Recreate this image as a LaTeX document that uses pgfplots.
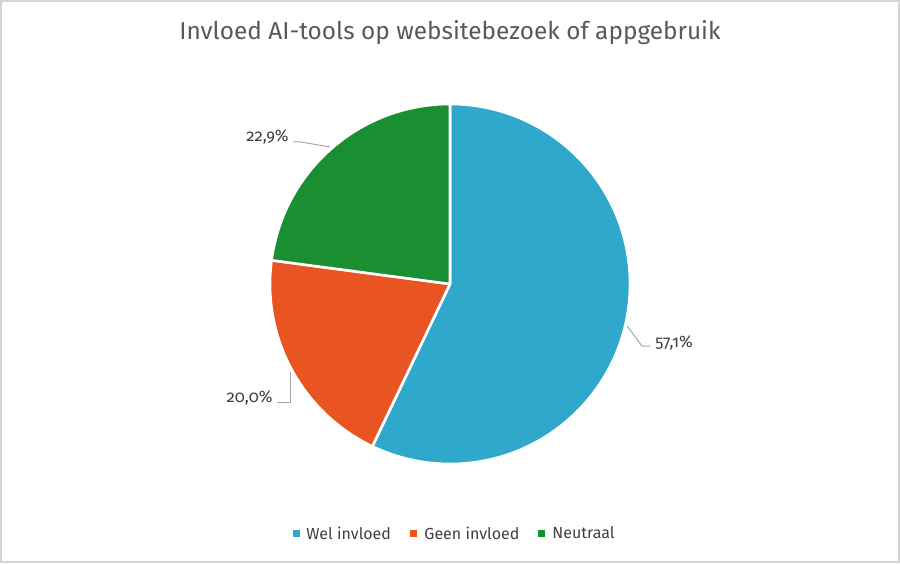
\documentclass[border=0pt]{standalone}
\usepackage{pgfplots}
\pgfplotsset{compat=1.18}
\usepackage{pgfplotstable}
\usepackage{fontspec}
\setmainfont{Fira Sans}[Numbers=OldStyle]

\definecolor{welblue}{HTML}{2FA8CC}
\definecolor{geenorange}{HTML}{E85522}
\definecolor{neutgreen}{HTML}{198F32}
\definecolor{titlegray}{HTML}{595959}
\definecolor{textgray}{HTML}{404040}
\definecolor{leadgray}{HTML}{A6A6A6}

\pgfplotstableread{
value
57.1
20.0
22.9
}\pietable

\begin{document}
\begin{tikzpicture}
% angles of the wedge borders, clockwise from 12 o'clock
\pgfplotstablegetelem{0}{value}\of\pietable\global\let\va\pgfplotsretval
\pgfplotstablegetelem{1}{value}\of\pietable\global\let\vb\pgfplotsretval
\pgfplotstablegetelem{2}{value}\of\pietable\global\let\vc\pgfplotsretval
\pgfmathsetmacro\aA{90}\global\let\aA\aA
\pgfmathsetmacro\aB{90-3.6*\va}\global\let\aB\aB
\pgfmathsetmacro\aC{\aB-3.6*\vb}\global\let\aC\aC
\pgfmathsetmacro\aD{\aC-3.6*\vc}\global\let\aD\aD
\begin{axis}[scale only axis, width=450pt, height=281.5pt,
    xmin=0, xmax=900, ymin=0, ymax=563, enlargelimits=false,
    hide axis, clip=false]
% frame
\draw[draw=black!17, line width=0.6pt] (axis cs:1,1) rectangle (axis cs:899,562);
% title
\node[text=titlegray, font=\fontsize{12.2}{15}\selectfont] at (axis cs:450,530)
    {Invloed AI-tools op websitebezoek of appgebruik};
% wedges (radius 180 px = 90pt)
\filldraw[fill=welblue, draw=white, line width=1.3pt, line join=round]
    (axis cs:450,279) -- +(\aA:90pt) arc[start angle=\aA, end angle=\aB, radius=90pt] -- cycle;
\filldraw[fill=geenorange, draw=white, line width=1.3pt, line join=round]
    (axis cs:450,279) -- +(\aB:90pt) arc[start angle=\aB, end angle=\aC, radius=90pt] -- cycle;
\filldraw[fill=neutgreen, draw=white, line width=1.3pt, line join=round]
    (axis cs:450,279) -- +(\aC:90pt) arc[start angle=\aC, end angle=\aD, radius=90pt] -- cycle;
% data labels with leader lines
\draw[leadgray, line width=0.5pt] (axis cs:627,237) -- (axis cs:642,217) -- (axis cs:650,217);
\node[anchor=west, text=textgray, font=\fontsize{8.3}{10}\selectfont, inner sep=1pt]
    at (axis cs:653,220) {57,1\%};
\draw[leadgray, line width=0.5pt] (axis cs:290,191) -- (axis cs:290,161) -- (axis cs:277,161);
\node[anchor=east, text=textgray, font=\fontsize{8.3}{10}\selectfont, inner sep=1pt]
    at (axis cs:275,165) {20,0\%};
\draw[leadgray, line width=0.5pt] (axis cs:330,416) -- (axis cs:301,421) -- (axis cs:293,421);
\node[anchor=east, text=textgray, font=\fontsize{8.3}{10}\selectfont, inner sep=1pt]
    at (axis cs:291,426) {22,9\%};
% legend
\fill[welblue] (axis cs:293,26.5) rectangle (axis cs:300,33.5);
\node[anchor=west, text=textgray, font=\fontsize{8}{10}\selectfont, inner sep=0pt]
    at (axis cs:306,30) {Wel invloed};
\fill[geenorange] (axis cs:410,26.5) rectangle (axis cs:417,33.5);
\node[anchor=west, text=textgray, font=\fontsize{8}{10}\selectfont, inner sep=0pt]
    at (axis cs:424,30) {Geen invloed};
\fill[neutgreen] (axis cs:538,26.5) rectangle (axis cs:545,33.5);
\node[anchor=west, text=textgray, font=\fontsize{8}{10}\selectfont, inner sep=0pt]
    at (axis cs:552,30) {Neutraal};
\end{axis}
\pgfresetboundingbox
\path (current axis.south west) rectangle (current axis.north east);
\end{tikzpicture}
\end{document}
